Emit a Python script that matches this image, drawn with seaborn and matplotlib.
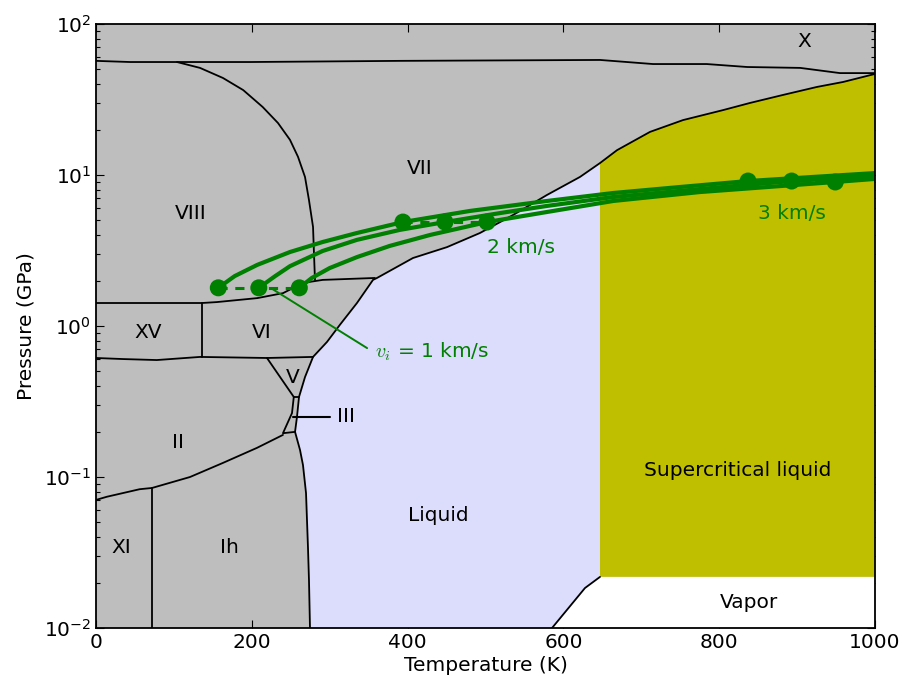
import numpy as np
import pandas as pd
import matplotlib
matplotlib.use("Agg")
import matplotlib.pyplot as plt
import seaborn as sns

# ---------------- data (T in K, P in GPa) ----------------
melt_T = [274.7, 273.4, 272.1, 269.6, 265.7, 261.9, 255.5, 258.0, 260.6, 268.3, 278.6,
          296.5, 313.2, 335.0, 355.6, 360.7, 406.9, 450.6, 492.9, 535.3, 579.0, 621.3,
          647.0, 668.8, 711.2, 753.5, 804.9, 839.5, 881.9, 925.5, 958.9, 1000.0]
melt_P = [0.0100, 0.0208, 0.0344, 0.0783, 0.120, 0.151, 0.199, 0.250, 0.339, 0.459, 0.624,
          0.784, 1.02, 1.42, 2.02, 2.08, 2.82, 3.33, 4.13, 5.43, 7.38, 9.71,
          12.0, 14.6, 19.3, 23.1, 26.9, 30.0, 33.9, 38.3, 41.3, 46.7]
T_crit, P_crit = 647.0, 0.0218
boil_T = [585.4, 627.7, 647.0]
boil_P = [0.0100, 0.0184, 0.0218]

x_vii_T = [0, 44, 101, 198, 390, 647, 715, 784, 836, 904, 955, 1000]
x_vii_P = [57.0, 56.0, 56.0, 56.0, 57.0, 57.8, 54.3, 54.3, 51.9, 51.2, 47.3, 47.3]
vii_viii_T = [104, 133.5, 163, 189, 214, 233.6, 249, 259.3, 268.3, 273.4, 278.6, 279.8, 281.1]
vii_viii_P = [56.0, 51.2, 43.9, 36.5, 28.2, 22.1, 17.1, 13.2, 9.70, 6.82, 4.53, 3.04, 2.02]
viii_vi_T = [0, 136, 155, 207, 240, 266, 291, 358]
viii_vi_P = [1.42, 1.42, 1.44, 1.53, 1.65, 1.93, 2.02, 2.08]
xv_vi_T = [136, 136]
xv_vi_P = [1.42, 0.62]
ii_top_T = [0, 35, 78, 133.5, 219.5, 278.6]
ii_top_P = [0.614, 0.604, 0.595, 0.624, 0.614, 0.624]
v_left_T = [219.5, 253.9]
v_left_P = [0.614, 0.339]
iii_T = [253.9, 260.6]
iii_P = [0.339, 0.339]
ii_iii_T = [253.9, 251.6, 240.0, 255.5]
ii_iii_P = [0.339, 0.265, 0.195, 0.199]
ii_ih_T = [0, 14, 34.7, 56, 71.9, 120.7, 163, 206.7, 240.0]
ii_ih_P = [0.0705, 0.0740, 0.0783, 0.0830, 0.0846, 0.100, 0.124, 0.156, 0.190]
xi_ih_T = [72, 72]
xi_ih_P = [0.0846, 0.0100]

# shock trajectories for impact speeds (green)
h1_T = [157, 178, 207, 249, 291, 335, 394, 480, 579, 664, 750, 837, 1000]
h1_P = [1.79, 2.14, 2.54, 3.09, 3.60, 4.13, 4.88, 5.78, 6.73, 7.60, 8.33, 9.12, 10.3]
h2_T = [209, 230, 249, 291, 335, 390, 448, 519, 579, 664, 775, 893, 1000]
h2_P = [1.79, 2.14, 2.49, 3.14, 3.72, 4.33, 4.88, 5.60, 6.24, 7.15, 8.07, 9.12, 9.84]
h3_T = [261, 277, 300, 335, 377, 429, 502, 579, 664, 775, 949, 1000]
h3_P = [1.79, 2.08, 2.42, 2.86, 3.39, 4.01, 4.88, 5.69, 6.73, 7.71, 8.99, 9.42]
dots_lo_T = [157, 209, 261]
dots_lo_P = [1.79, 1.79, 1.79]
dots_mid_T = [394, 448, 502]
dots_mid_P = [4.88, 4.88, 4.88]
dots_hi_T = [837, 893, 949]
dots_hi_P = [9.12, 9.12, 8.99]

phase_labels = ["X", "VII", "VIII", "XV", "VI", "V", "II", "XI", "Ih",
                "Liquid", "Supercritical liquid", "Vapor"]
label_T = [909, 416, 121, 67, 213, 252, 105, 32, 171, 439, 824, 838]
label_P = [76, 11.1, 5.6, 0.90, 0.90, 0.453, 0.168, 0.0339, 0.0339, 0.056, 0.111, 0.0147]

# ---------------- style ----------------
sns.set_theme(style="ticks")
plt.rcParams.update({
    "font.family": ["DejaVu Sans"],
    "font.size": 14.5,
    "text.color": "black",
    "axes.labelcolor": "black",
    "axes.unicode_minus": False,
    "xtick.direction": "in", "ytick.direction": "in",
    "xtick.top": True, "ytick.right": True,
    "xtick.major.size": 6, "ytick.major.size": 6,
    "xtick.minor.size": 3, "ytick.minor.size": 3,
    "xtick.major.width": 0.8, "ytick.major.width": 0.8,
    "ytick.minor.width": 0.8,
    "axes.linewidth": 1.3,
    "axes.edgecolor": "black",
    "xtick.color": "black", "ytick.color": "black",
    "xtick.labelcolor": "black", "ytick.labelcolor": "black",
    "xtick.labelsize": 14.5, "ytick.labelsize": 14.5,
})

fig = plt.figure(figsize=(9.05, 6.86), dpi=100)
ax = fig.add_axes([96 / 905, 1 - 628 / 686, (875 - 96) / 905, (628 - 24) / 686])
ax.set_facecolor("#bebebe")
ax.set_yscale("log")
ax.set_xlim(0, 1000)
ax.set_ylim(0.01, 100)

# ---------------- regions ----------------
ci = melt_T.index(T_crit)
liq_T = melt_T[:ci + 1] + [T_crit] + boil_T[::-1][1:]
liq_P = melt_P[:ci + 1] + [P_crit] + boil_P[::-1][1:]
ax.fill(liq_T, liq_P, color="#dcdcfc", lw=0, zorder=1)
sc_T = melt_T[ci:] + [1000, T_crit]
sc_P = melt_P[ci:] + [P_crit, P_crit]
ax.fill(sc_T, sc_P, color="#bfbf00", lw=0, zorder=1)
vap_T = boil_T + [1000, 1000]
vap_P = boil_P + [P_crit, 0.01]
ax.fill(vap_T, vap_P, color="white", lw=0, zorder=1)

# ---------------- boundaries ----------------
bounds = [(melt_T, melt_P), (boil_T, boil_P), (x_vii_T, x_vii_P),
          (vii_viii_T, vii_viii_P), (viii_vi_T, viii_vi_P), (xv_vi_T, xv_vi_P),
          (ii_top_T, ii_top_P), (v_left_T, v_left_P), (iii_T, iii_P),
          (ii_iii_T, ii_iii_P), (ii_ih_T, ii_ih_P), (xi_ih_T, xi_ih_P)]
for bt, bp in bounds:
    ax.plot(bt, bp, color="black", lw=1.3, zorder=2, solid_joinstyle="round")

# ---------------- green trajectories ----------------
df = pd.concat([
    pd.DataFrame({"T": h1_T, "P": h1_P, "v": "a"}),
    pd.DataFrame({"T": h2_T, "P": h2_P, "v": "b"}),
    pd.DataFrame({"T": h3_T, "P": h3_P, "v": "c"}),
])
sns.lineplot(data=df, x="T", y="P", hue="v", units="v", estimator=None, sort=False,
             palette=["green"] * 3, lw=3.0, legend=False, ax=ax, zorder=4)
for dt, dp in [(dots_lo_T, dots_lo_P), (dots_mid_T, dots_mid_P), (dots_hi_T, dots_hi_P)]:
    ax.plot(dt, dp, color="green", lw=2.2, ls=(0, (3, 2.5)), zorder=4)
dots = pd.DataFrame({"T": dots_lo_T + dots_mid_T + dots_hi_T,
                     "P": dots_lo_P + dots_mid_P + dots_hi_P})
sns.scatterplot(data=dots, x="T", y="P", color="green", s=150, edgecolor="none",
                ax=ax, zorder=5)

# annotations
ax.plot([227, 348], [1.75, 0.714], color="green", lw=1.4, zorder=4)
ax.text(358, 0.673, r"$v_i$ = 1 km/s", color="green", ha="left", va="center",
        fontsize=14.5, math_fontfamily="cm", zorder=6)
ax.text(502, 3.33, "2 km/s", color="green", ha="left", va="center", fontsize=14.5, zorder=6)
ax.text(850, 5.6, "3 km/s", color="green", ha="left", va="center", fontsize=14.5, zorder=6)
ax.plot([253, 300], [0.25, 0.25], color="black", lw=1.5, zorder=3)
ax.text(310, 0.25, "III", ha="left", va="center", fontsize=14.5, color="black", zorder=6)

for lab, lt, lp in zip(phase_labels, label_T, label_P):
    ax.text(lt, lp, lab, ha="center", va="center", fontsize=14.5, color="black", zorder=6)

ax.set_xlabel("Temperature (K)", fontsize=14.5, labelpad=3, color="black")
ax.set_ylabel("Pressure (GPa)", fontsize=14.5, labelpad=6, color="black")
ax.set_xticks([0, 200, 400, 600, 800, 1000])
for sp in ax.spines.values():
    sp.set_zorder(10)

fig.savefig("out.png", dpi=100)
